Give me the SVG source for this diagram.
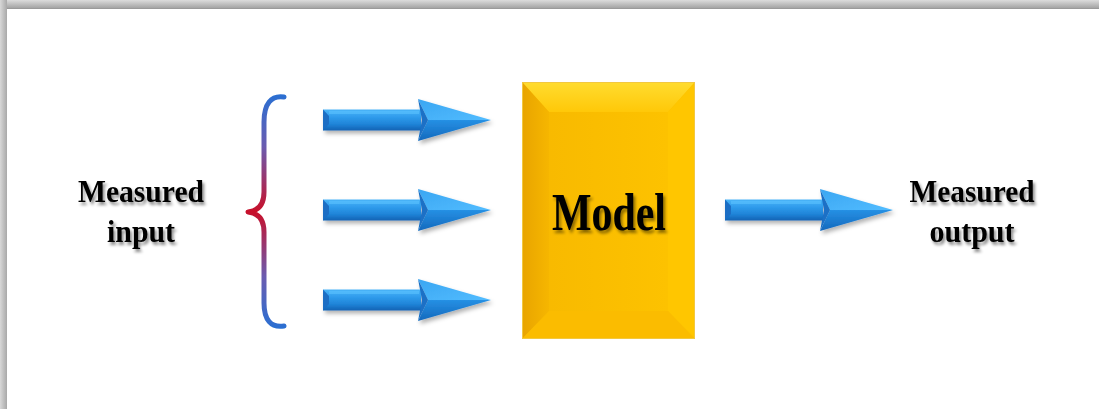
<svg xmlns="http://www.w3.org/2000/svg" width="1099" height="409" viewBox="0 0 1099 409">
  <defs>
    <style>
      .lbl { font-family: "Liberation Serif", "Times New Roman", serif; font-weight: bold; fill: #000; filter: url(#txtShadow); }
      .side { font-size: 31px; }
      .title { font-size: 53px; }
    </style>
    <!-- page edge shading -->
    <linearGradient id="shadeTop" x1="0" y1="0" x2="0" y2="1">
      <stop offset="0" stop-color="#dcdcdc"/>
      <stop offset="1" stop-color="#a4a4a4"/>
    </linearGradient>
    <linearGradient id="shadeLeft" x1="0" y1="0" x2="1" y2="0">
      <stop offset="0" stop-color="#d8d8d8"/>
      <stop offset="1" stop-color="#a8a8a8"/>
    </linearGradient>
    <!-- brace colour: blue ends, red centre -->
    <linearGradient id="braceGrad" gradientUnits="userSpaceOnUse" x1="0" y1="95" x2="0" y2="328">
      <stop offset="0" stop-color="#2a6fd2"/>
      <stop offset="0.22" stop-color="#6a5cb0"/>
      <stop offset="0.5" stop-color="#c8102a"/>
      <stop offset="0.78" stop-color="#6a5cb0"/>
      <stop offset="1" stop-color="#2a6fd2"/>
    </linearGradient>
    <!-- arrow shading -->
    <linearGradient id="shaftGrad" x1="0" y1="0" x2="0" y2="1">
      <stop offset="0" stop-color="#4ab4f8"/>
      <stop offset="0.35" stop-color="#2f9cec"/>
      <stop offset="0.7" stop-color="#1f84d8"/>
      <stop offset="1" stop-color="#1262b4"/>
    </linearGradient>
    <linearGradient id="headUp" x1="0" y1="0" x2="1" y2="1">
      <stop offset="0" stop-color="#3aa6f2"/>
      <stop offset="1" stop-color="#52bcff"/>
    </linearGradient>
    <linearGradient id="headLow" x1="0" y1="0" x2="0" y2="1">
      <stop offset="0" stop-color="#2590e4"/>
      <stop offset="1" stop-color="#1468bc"/>
    </linearGradient>
    <!-- model box shading -->
    <linearGradient id="faceGrad" x1="0" y1="0" x2="1" y2="0">
      <stop offset="0" stop-color="#f7b800"/>
      <stop offset="1" stop-color="#fec400"/>
    </linearGradient>
    <linearGradient id="topBevel" x1="0" y1="0" x2="0" y2="1">
      <stop offset="0" stop-color="#ffdc30"/>
      <stop offset="1" stop-color="#ffc808"/>
    </linearGradient>
    <linearGradient id="leftBevel" x1="0" y1="0" x2="1" y2="0">
      <stop offset="0" stop-color="#e8a400"/>
      <stop offset="1" stop-color="#f6b600"/>
    </linearGradient>
    <filter id="txtShadow" x="-20%" y="-30%" width="140%" height="170%">
      <feDropShadow dx="2" dy="3" stdDeviation="1.6" flood-color="#000" flood-opacity="0.45"/>
    </filter>
    <filter id="arrowShadow" x="-10%" y="-40%" width="125%" height="190%">
      <feDropShadow dx="2" dy="3" stdDeviation="2" flood-color="#000" flood-opacity="0.3"/>
    </filter>
    <!-- block arrow, origin at left end of shaft centre line -->
    <g id="blockArrow">
      <rect x="0" y="-10.5" width="98" height="21" fill="url(#shaftGrad)"/>
      <polygon points="0,-10.5 6,-4 6,4 0,10.5" fill="#1a6ec4"/>
      <rect x="6" y="-9" width="90" height="3" fill="#5cc2ff" opacity="0.6"/>
      <polygon points="95,-21 168,0 105,0" fill="url(#headUp)"/>
      <polygon points="105,0 168,0 95,21" fill="url(#headLow)"/>
      <polygon points="95,-21 105,0 95,21 99,0" fill="#1a70c6"/>
    </g>
  </defs>

  <!-- page with shaded top and left edges -->
  <rect x="0" y="0" width="1099" height="409" fill="#ffffff"/>
  <rect x="0" y="0" width="1099" height="8" fill="url(#shadeTop)"/>
  <rect x="0" y="0" width="7" height="409" fill="url(#shadeLeft)"/>
  <rect x="7" y="8" width="1092" height="1" fill="#9a9a9a"/>

  <g id="input-label">
    <text class="lbl side" x="141" y="202" text-anchor="middle" textLength="126" lengthAdjust="spacingAndGlyphs">Measured</text>
    <text class="lbl side" x="141" y="242" text-anchor="middle" textLength="68" lengthAdjust="spacingAndGlyphs">input</text>
  </g>

  <g id="brace">
    <path d="M 284,97 C 271,95 264,104 264,122 L 264,192 C 264,205 258,211 248,212 C 258,213 264,219 264,232 L 264,303 C 264,320 271,328 284,326"
          fill="none" stroke="url(#braceGrad)" stroke-width="5" stroke-linecap="round" stroke-linejoin="round"/>
  </g>

  <g id="model">
    <rect x="522" y="82" width="173" height="257" fill="url(#faceGrad)"/>
    <polygon points="522,82 695,82 668,112 549,112" fill="url(#topBevel)"/>
    <polygon points="522,82 549,112 549,311 522,339" fill="url(#leftBevel)"/>
    <polygon points="695,82 695,339 668,311 668,112" fill="#ffc600"/>
    <polygon points="522,339 549,311 668,311 695,339" fill="#fbbc00"/>
    <rect x="522.5" y="82.5" width="172" height="256" fill="none" stroke="#f2c840" stroke-width="1"/>
    <text class="lbl title" x="609" y="230" text-anchor="middle" textLength="114" lengthAdjust="spacingAndGlyphs">Model</text>
  </g>

  <g id="output-label">
    <text class="lbl side" x="972" y="202" text-anchor="middle" textLength="125" lengthAdjust="spacingAndGlyphs">Measured</text>
    <text class="lbl side" x="972" y="242" text-anchor="middle" textLength="85" lengthAdjust="spacingAndGlyphs">output</text>
  </g>

  <g id="connectors" filter="url(#arrowShadow)">
    <use href="#blockArrow" transform="translate(323,120)"/>
    <use href="#blockArrow" transform="translate(323,210)"/>
    <use href="#blockArrow" transform="translate(323,300)"/>
    <use href="#blockArrow" transform="translate(725,210)"/>
  </g>
</svg>
